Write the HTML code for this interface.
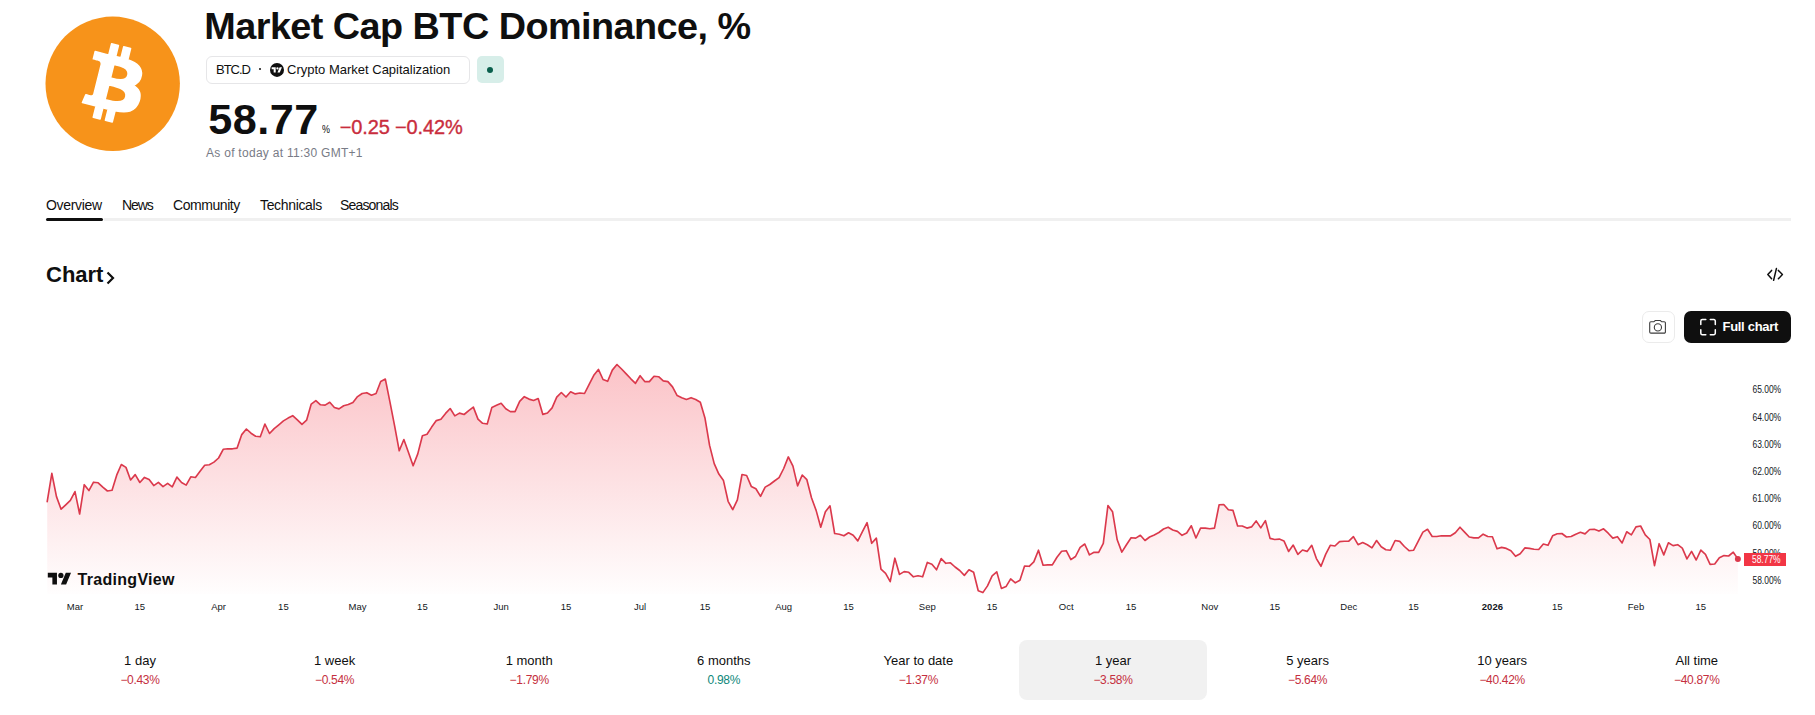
<!DOCTYPE html>
<html><head><meta charset="utf-8"><style>
*{box-sizing:border-box}
html,body{margin:0;padding:0;background:#fff;width:1815px;height:715px;overflow:hidden;font-family:"Liberation Sans", sans-serif;color:#0f0f0f}
.a{position:absolute;white-space:nowrap}
.title{left:204.3px;top:4.2px;font-size:37.8px;font-weight:bold;line-height:44px;letter-spacing:-0.54px}
.pill{left:206px;top:56px;width:264px;height:28px;border:1px solid #e6e6e8;border-radius:6px}
.pt{font-size:13px;line-height:16px;top:62px}
.gbox{left:477px;top:56px;width:27px;height:27px;border-radius:5px;background:#d7eee9}
.gdot{left:487px;top:67px;width:6px;height:6px;border-radius:50%;background:#0a5f4c}
.price{left:208.3px;top:95.2px;font-size:43.2px;font-weight:bold;line-height:48px;letter-spacing:0.5px}
.pct{left:322px;top:122.3px;font-size:11.5px;line-height:14px;transform:scaleX(0.78);transform-origin:0 0}
.chg{left:339.8px;top:116px;font-size:20px;line-height:22px;color:#c92d3d;letter-spacing:-0.15px;-webkit-text-stroke:0.35px #c92d3d}
.asof{left:206px;top:146px;font-size:12px;line-height:14px;color:#787b86;letter-spacing:0.28px}
.tab{top:197.3px;font-size:14px;line-height:16px}
.tline{left:104px;top:218px;width:1687px;height:3px;background:#f0f0f0}
.tact{left:46px;top:218px;width:57px;height:3px;background:#0f0f0f;border-radius:2px}
.chart{left:46px;top:262px;font-size:22px;font-weight:bold;line-height:26px}
.cam{left:1642px;top:311px;width:33px;height:32px;border:1px solid #ebebeb;border-radius:7px}
.full{left:1684px;top:311px;width:107px;height:32px;background:#0f0f0f;border-radius:7px}
.fullt{left:1722.5px;top:319px;font-size:13px;font-weight:bold;line-height:16px;color:#fff;letter-spacing:-0.3px}
.yl{position:absolute;left:1748px;width:38px;text-align:center;font-size:10.2px;line-height:14px;color:#131722;transform:scaleX(0.83);transform-origin:17.8px 0}
.xl{position:absolute;top:600px;width:60px;text-align:center;font-size:9.5px;line-height:14px;color:#131722}
.plab{left:1744px;top:553px;width:42px;height:13px;background:#f23645;color:#fff;font-size:10.2px;line-height:13px;text-align:center;padding-left:2px}
.plab span{display:inline-block;transform:scaleX(0.83)}
.tvt{left:77.5px;top:570px;letter-spacing:0.3px;font-size:16px;font-weight:bold;line-height:19px;color:#0f0f0f}
.rg{position:absolute;top:640px;width:188px;height:60px;border-radius:8px;text-align:center}
.rg.sel{background:#f1f1f1}
.rl{position:absolute;left:0;right:0;top:13px;font-size:13px;line-height:16px;color:#0f0f0f}
.rv{position:absolute;left:0;right:0;top:33px;font-size:12px;line-height:14px;letter-spacing:-0.3px}
.r{color:#c52f40} .g{color:#0d877a}
</style></head><body>
<svg class="a" style="left:0;top:0" width="1815" height="715" viewBox="0 0 1815 715">
<defs>
<linearGradient id="fg" gradientUnits="userSpaceOnUse" x1="0" y1="363" x2="0" y2="600">
<stop offset="0" stop-color="#f23645" stop-opacity="0.30"/>
<stop offset="1" stop-color="#f23645" stop-opacity="0"/>
</linearGradient>
</defs>
<!-- bitcoin logo -->
<circle cx="112.7" cy="83.8" r="67.2" fill="#f7931a"/>
<g transform="translate(52.5,22.4) scale(1.926)">
<path fill="#fff" stroke="#fff" stroke-width="0.85" stroke-linejoin="round" d="M46.11 27.441c.636-4.258-2.606-6.547-7.039-8.074l1.438-5.768-3.511-.875-1.4 5.616c-.923-.23-1.871-.447-2.813-.662l1.41-5.653-3.509-.875-1.439 5.766c-.764-.174-1.514-.346-2.242-.527l.004-.018-4.842-1.209-.934 3.75s2.605.597 2.55.634c1.422.355 1.679 1.296 1.636 2.042l-1.638 6.571c.098.025.225.061.365.117l-.371-.092-2.297 9.205c-.174.432-.615 1.08-1.609.834.035.051-2.552-.637-2.552-.637l-1.743 4.019 4.569 1.139c.85.213 1.683.436 2.503.646l-1.453 5.834 3.507.875 1.439-5.772c.958.26 1.888.5 2.798.726l-1.434 5.745 3.511.875 1.453-5.823c5.987 1.133 10.489.676 12.384-4.739 1.527-4.36-.076-6.875-3.226-8.515 2.294-.529 4.022-2.038 4.483-5.155zM38.087 38.69c-1.085 4.36-8.426 2.003-10.806 1.412l1.928-7.729c2.38.594 10.012 1.77 8.878 6.317zm1.086-11.312c-.99 3.966-7.1 1.951-9.082 1.457l1.748-7.01c1.982.494 8.365 1.416 7.334 5.553z"/>
</g>
<!-- tv circle logo in pill -->
<circle cx="277" cy="69.9" r="7" fill="#0f0f0f"/>
<g transform="translate(271.65,66.13) scale(0.29)" fill="#fff"><path d="M14 22H7V11H0V4h14v18zM28 22h-8l7.5-18h8L28 22z"/><circle cx="20" cy="8" r="4"/></g>
<!-- code icon -->
<g fill="none" stroke="#0f0f0f" stroke-width="1.5" stroke-linecap="round" stroke-linejoin="round">
<path d="M1771.6,270.4 L1767.8,274.6 L1771.6,278.8"/>
<path d="M1776.4,268.6 L1773.6,280.3"/>
<path d="M1778.4,270.4 L1782.4,274.6 L1778.4,278.8"/>
</g>
<!-- chevron after Chart -->
<path d="M107.5,272.5 L113,278 L107.5,283.5" fill="none" stroke="#0f0f0f" stroke-width="2.2"/>
<!-- chart -->
<path d="M47.21,501.7 L51.84,473.4 L56.47,496.6 L61.10,509.2 L65.74,504.8 L70.37,500.4 L75.00,491.6 L79.63,514.0 L84.26,484.7 L88.90,490.6 L93.53,482.2 L98.16,482.8 L102.79,487.2 L107.42,491.0 L112.06,490.3 L116.69,475.2 L121.32,464.5 L125.95,467.4 L130.58,480.0 L135.22,474.6 L139.85,482.5 L144.48,477.4 L149.11,479.6 L153.74,485.6 L158.38,482.4 L163.01,486.6 L167.64,483.4 L172.27,486.8 L176.90,477.1 L181.54,482.5 L186.17,485.1 L190.80,476.8 L195.43,477.5 L200.06,471.2 L204.70,465.3 L209.33,464.7 L213.96,462.1 L218.59,458.0 L223.22,449.3 L227.86,448.8 L232.49,448.8 L237.12,448.1 L241.75,434.6 L246.38,429.0 L251.02,433.2 L255.65,436.3 L260.28,436.7 L264.91,424.0 L269.54,433.5 L274.18,428.6 L278.81,424.8 L283.44,420.9 L288.07,418.1 L292.70,415.7 L297.34,419.9 L301.97,424.4 L306.60,420.2 L311.23,404.1 L315.86,400.6 L320.50,404.8 L325.13,405.1 L329.76,402.3 L334.39,407.5 L339.02,408.9 L343.66,405.7 L348.29,404.5 L352.92,402.4 L357.55,396.6 L362.18,393.5 L366.82,392.7 L371.45,395.2 L376.08,393.5 L380.71,381.5 L385.34,379.1 L389.98,402.2 L394.61,425.9 L399.24,450.8 L403.87,439.5 L408.50,452.5 L413.14,465.8 L417.77,453.9 L422.40,435.7 L427.03,434.3 L431.66,427.1 L436.30,420.6 L440.93,419.2 L445.56,413.4 L450.19,408.5 L454.82,415.9 L459.46,413.1 L464.09,414.5 L468.72,410.6 L473.35,407.1 L477.98,419.1 L482.62,423.3 L487.25,424.0 L491.88,407.4 L496.51,405.3 L501.14,403.3 L505.78,408.8 L510.41,411.6 L515.04,411.6 L519.67,401.4 L524.30,396.7 L528.94,399.1 L533.57,400.5 L538.20,398.6 L542.83,414.4 L547.46,413.0 L552.10,407.9 L556.73,397.2 L561.36,392.5 L565.99,397.0 L570.62,391.8 L575.26,393.9 L579.89,393.0 L584.52,393.5 L589.15,384.4 L593.78,375.3 L598.42,369.4 L603.05,379.5 L607.68,381.3 L612.31,370.1 L616.94,364.5 L621.58,369.0 L626.21,373.9 L630.84,378.8 L635.47,383.3 L640.10,375.7 L644.74,381.6 L649.37,381.6 L654.00,376.3 L658.63,376.7 L663.26,380.9 L667.90,381.6 L672.53,386.9 L677.16,395.6 L681.79,397.7 L686.42,399.5 L691.06,397.7 L695.69,399.5 L700.32,402.3 L704.95,417.9 L709.58,445.4 L714.22,463.6 L718.85,474.1 L723.48,480.6 L728.11,501.3 L732.74,509.7 L737.38,499.9 L742.01,474.5 L746.64,475.5 L751.27,486.4 L755.90,488.7 L760.54,496.4 L765.17,487.1 L769.80,484.5 L774.43,481.0 L779.06,477.6 L783.70,468.5 L788.33,456.9 L792.96,466.1 L797.59,485.9 L802.22,475.0 L806.86,479.7 L811.49,497.8 L816.12,510.4 L820.75,527.2 L825.38,511.8 L830.02,505.8 L834.65,533.5 L839.28,534.2 L843.91,535.8 L848.54,532.8 L853.18,535.3 L857.81,540.9 L862.44,531.6 L867.07,522.7 L871.70,543.3 L876.34,538.1 L880.97,569.1 L885.60,573.3 L890.23,581.7 L894.86,558.2 L899.50,574.4 L904.13,571.6 L908.76,572.3 L913.39,576.8 L918.02,575.8 L922.66,576.8 L927.29,562.4 L931.92,564.2 L936.55,569.8 L941.18,558.6 L945.82,563.3 L950.45,562.8 L955.08,567.0 L959.71,570.5 L964.34,575.4 L968.98,569.8 L973.61,572.2 L978.24,590.8 L982.87,592.6 L987.50,585.9 L992.14,575.8 L996.77,571.9 L1001.40,588.4 L1006.03,586.6 L1010.66,578.9 L1015.30,582.8 L1019.93,580.3 L1024.56,566.0 L1029.19,566.3 L1033.82,561.9 L1038.46,550.2 L1043.09,565.2 L1047.72,564.9 L1052.35,564.9 L1056.98,557.2 L1061.62,551.2 L1066.25,550.7 L1070.88,559.6 L1075.51,556.5 L1080.14,547.4 L1084.78,544.0 L1089.41,554.9 L1094.04,552.3 L1098.67,552.3 L1103.30,543.3 L1107.94,505.5 L1112.57,511.8 L1117.20,539.8 L1121.83,552.1 L1126.46,544.7 L1131.10,537.7 L1135.73,538.1 L1140.36,535.3 L1144.99,540.5 L1149.62,537.0 L1154.26,534.9 L1158.89,532.5 L1163.52,529.0 L1168.15,527.2 L1172.78,530.0 L1177.42,531.4 L1182.05,535.3 L1186.68,533.0 L1191.31,525.8 L1195.94,538.0 L1200.58,528.1 L1205.21,528.1 L1209.84,528.8 L1214.47,528.1 L1219.10,504.8 L1223.74,504.5 L1228.37,509.7 L1233.00,510.4 L1237.63,526.0 L1242.26,526.0 L1246.90,528.1 L1251.53,526.9 L1256.16,520.9 L1260.79,527.9 L1265.42,520.6 L1270.06,538.4 L1274.69,539.5 L1279.32,539.1 L1283.95,540.9 L1288.58,551.4 L1293.22,545.1 L1297.85,554.4 L1302.48,550.0 L1307.11,551.4 L1311.74,545.3 L1316.38,558.6 L1321.01,566.3 L1325.64,554.4 L1330.27,545.3 L1334.90,546.0 L1339.54,541.6 L1344.17,541.2 L1348.80,541.2 L1353.43,536.7 L1358.06,544.7 L1362.70,542.6 L1367.33,544.7 L1371.96,547.9 L1376.59,540.5 L1381.22,546.7 L1385.86,549.8 L1390.49,550.2 L1395.12,540.5 L1399.75,541.4 L1404.38,546.5 L1409.02,550.7 L1413.65,550.2 L1418.28,541.2 L1422.91,532.1 L1427.54,529.3 L1432.18,536.5 L1436.81,536.5 L1441.44,535.8 L1446.07,535.8 L1450.70,535.8 L1455.34,532.8 L1459.97,527.2 L1464.60,532.1 L1469.23,537.0 L1473.86,537.9 L1478.50,537.9 L1483.13,534.2 L1487.76,536.5 L1492.39,536.7 L1497.02,548.8 L1501.66,547.4 L1506.29,548.4 L1510.92,550.7 L1515.55,556.3 L1520.18,553.7 L1524.82,547.9 L1529.45,548.4 L1534.08,549.3 L1538.71,549.5 L1543.34,544.0 L1547.98,545.3 L1552.61,535.8 L1557.24,533.7 L1561.87,533.5 L1566.50,537.0 L1571.14,536.5 L1575.77,534.2 L1580.40,532.3 L1585.03,533.9 L1589.66,529.5 L1594.30,529.3 L1598.93,531.1 L1603.56,528.8 L1608.19,533.2 L1612.82,538.1 L1617.46,536.7 L1622.09,543.0 L1626.72,531.8 L1631.35,534.9 L1635.98,526.9 L1640.62,526.0 L1645.25,534.9 L1649.88,539.5 L1654.51,565.6 L1659.14,543.7 L1663.78,554.9 L1668.41,542.8 L1673.04,545.6 L1677.67,544.7 L1682.30,548.1 L1686.94,558.9 L1691.57,551.4 L1696.20,560.0 L1700.83,550.1 L1705.46,554.3 L1710.10,564.4 L1714.73,564.0 L1719.36,557.7 L1723.99,555.6 L1728.62,556.0 L1733.26,552.2 L1737.89,558.9 L1737.89,594 L47.21,594 Z" fill="url(#fg)"/>
<path d="M47.21,501.7 L51.84,473.4 L56.47,496.6 L61.10,509.2 L65.74,504.8 L70.37,500.4 L75.00,491.6 L79.63,514.0 L84.26,484.7 L88.90,490.6 L93.53,482.2 L98.16,482.8 L102.79,487.2 L107.42,491.0 L112.06,490.3 L116.69,475.2 L121.32,464.5 L125.95,467.4 L130.58,480.0 L135.22,474.6 L139.85,482.5 L144.48,477.4 L149.11,479.6 L153.74,485.6 L158.38,482.4 L163.01,486.6 L167.64,483.4 L172.27,486.8 L176.90,477.1 L181.54,482.5 L186.17,485.1 L190.80,476.8 L195.43,477.5 L200.06,471.2 L204.70,465.3 L209.33,464.7 L213.96,462.1 L218.59,458.0 L223.22,449.3 L227.86,448.8 L232.49,448.8 L237.12,448.1 L241.75,434.6 L246.38,429.0 L251.02,433.2 L255.65,436.3 L260.28,436.7 L264.91,424.0 L269.54,433.5 L274.18,428.6 L278.81,424.8 L283.44,420.9 L288.07,418.1 L292.70,415.7 L297.34,419.9 L301.97,424.4 L306.60,420.2 L311.23,404.1 L315.86,400.6 L320.50,404.8 L325.13,405.1 L329.76,402.3 L334.39,407.5 L339.02,408.9 L343.66,405.7 L348.29,404.5 L352.92,402.4 L357.55,396.6 L362.18,393.5 L366.82,392.7 L371.45,395.2 L376.08,393.5 L380.71,381.5 L385.34,379.1 L389.98,402.2 L394.61,425.9 L399.24,450.8 L403.87,439.5 L408.50,452.5 L413.14,465.8 L417.77,453.9 L422.40,435.7 L427.03,434.3 L431.66,427.1 L436.30,420.6 L440.93,419.2 L445.56,413.4 L450.19,408.5 L454.82,415.9 L459.46,413.1 L464.09,414.5 L468.72,410.6 L473.35,407.1 L477.98,419.1 L482.62,423.3 L487.25,424.0 L491.88,407.4 L496.51,405.3 L501.14,403.3 L505.78,408.8 L510.41,411.6 L515.04,411.6 L519.67,401.4 L524.30,396.7 L528.94,399.1 L533.57,400.5 L538.20,398.6 L542.83,414.4 L547.46,413.0 L552.10,407.9 L556.73,397.2 L561.36,392.5 L565.99,397.0 L570.62,391.8 L575.26,393.9 L579.89,393.0 L584.52,393.5 L589.15,384.4 L593.78,375.3 L598.42,369.4 L603.05,379.5 L607.68,381.3 L612.31,370.1 L616.94,364.5 L621.58,369.0 L626.21,373.9 L630.84,378.8 L635.47,383.3 L640.10,375.7 L644.74,381.6 L649.37,381.6 L654.00,376.3 L658.63,376.7 L663.26,380.9 L667.90,381.6 L672.53,386.9 L677.16,395.6 L681.79,397.7 L686.42,399.5 L691.06,397.7 L695.69,399.5 L700.32,402.3 L704.95,417.9 L709.58,445.4 L714.22,463.6 L718.85,474.1 L723.48,480.6 L728.11,501.3 L732.74,509.7 L737.38,499.9 L742.01,474.5 L746.64,475.5 L751.27,486.4 L755.90,488.7 L760.54,496.4 L765.17,487.1 L769.80,484.5 L774.43,481.0 L779.06,477.6 L783.70,468.5 L788.33,456.9 L792.96,466.1 L797.59,485.9 L802.22,475.0 L806.86,479.7 L811.49,497.8 L816.12,510.4 L820.75,527.2 L825.38,511.8 L830.02,505.8 L834.65,533.5 L839.28,534.2 L843.91,535.8 L848.54,532.8 L853.18,535.3 L857.81,540.9 L862.44,531.6 L867.07,522.7 L871.70,543.3 L876.34,538.1 L880.97,569.1 L885.60,573.3 L890.23,581.7 L894.86,558.2 L899.50,574.4 L904.13,571.6 L908.76,572.3 L913.39,576.8 L918.02,575.8 L922.66,576.8 L927.29,562.4 L931.92,564.2 L936.55,569.8 L941.18,558.6 L945.82,563.3 L950.45,562.8 L955.08,567.0 L959.71,570.5 L964.34,575.4 L968.98,569.8 L973.61,572.2 L978.24,590.8 L982.87,592.6 L987.50,585.9 L992.14,575.8 L996.77,571.9 L1001.40,588.4 L1006.03,586.6 L1010.66,578.9 L1015.30,582.8 L1019.93,580.3 L1024.56,566.0 L1029.19,566.3 L1033.82,561.9 L1038.46,550.2 L1043.09,565.2 L1047.72,564.9 L1052.35,564.9 L1056.98,557.2 L1061.62,551.2 L1066.25,550.7 L1070.88,559.6 L1075.51,556.5 L1080.14,547.4 L1084.78,544.0 L1089.41,554.9 L1094.04,552.3 L1098.67,552.3 L1103.30,543.3 L1107.94,505.5 L1112.57,511.8 L1117.20,539.8 L1121.83,552.1 L1126.46,544.7 L1131.10,537.7 L1135.73,538.1 L1140.36,535.3 L1144.99,540.5 L1149.62,537.0 L1154.26,534.9 L1158.89,532.5 L1163.52,529.0 L1168.15,527.2 L1172.78,530.0 L1177.42,531.4 L1182.05,535.3 L1186.68,533.0 L1191.31,525.8 L1195.94,538.0 L1200.58,528.1 L1205.21,528.1 L1209.84,528.8 L1214.47,528.1 L1219.10,504.8 L1223.74,504.5 L1228.37,509.7 L1233.00,510.4 L1237.63,526.0 L1242.26,526.0 L1246.90,528.1 L1251.53,526.9 L1256.16,520.9 L1260.79,527.9 L1265.42,520.6 L1270.06,538.4 L1274.69,539.5 L1279.32,539.1 L1283.95,540.9 L1288.58,551.4 L1293.22,545.1 L1297.85,554.4 L1302.48,550.0 L1307.11,551.4 L1311.74,545.3 L1316.38,558.6 L1321.01,566.3 L1325.64,554.4 L1330.27,545.3 L1334.90,546.0 L1339.54,541.6 L1344.17,541.2 L1348.80,541.2 L1353.43,536.7 L1358.06,544.7 L1362.70,542.6 L1367.33,544.7 L1371.96,547.9 L1376.59,540.5 L1381.22,546.7 L1385.86,549.8 L1390.49,550.2 L1395.12,540.5 L1399.75,541.4 L1404.38,546.5 L1409.02,550.7 L1413.65,550.2 L1418.28,541.2 L1422.91,532.1 L1427.54,529.3 L1432.18,536.5 L1436.81,536.5 L1441.44,535.8 L1446.07,535.8 L1450.70,535.8 L1455.34,532.8 L1459.97,527.2 L1464.60,532.1 L1469.23,537.0 L1473.86,537.9 L1478.50,537.9 L1483.13,534.2 L1487.76,536.5 L1492.39,536.7 L1497.02,548.8 L1501.66,547.4 L1506.29,548.4 L1510.92,550.7 L1515.55,556.3 L1520.18,553.7 L1524.82,547.9 L1529.45,548.4 L1534.08,549.3 L1538.71,549.5 L1543.34,544.0 L1547.98,545.3 L1552.61,535.8 L1557.24,533.7 L1561.87,533.5 L1566.50,537.0 L1571.14,536.5 L1575.77,534.2 L1580.40,532.3 L1585.03,533.9 L1589.66,529.5 L1594.30,529.3 L1598.93,531.1 L1603.56,528.8 L1608.19,533.2 L1612.82,538.1 L1617.46,536.7 L1622.09,543.0 L1626.72,531.8 L1631.35,534.9 L1635.98,526.9 L1640.62,526.0 L1645.25,534.9 L1649.88,539.5 L1654.51,565.6 L1659.14,543.7 L1663.78,554.9 L1668.41,542.8 L1673.04,545.6 L1677.67,544.7 L1682.30,548.1 L1686.94,558.9 L1691.57,551.4 L1696.20,560.0 L1700.83,550.1 L1705.46,554.3 L1710.10,564.4 L1714.73,564.0 L1719.36,557.7 L1723.99,555.6 L1728.62,556.0 L1733.26,552.2 L1737.89,558.9" fill="none" stroke="#db394c" stroke-width="1.65" stroke-linejoin="round" stroke-linecap="round"/>
<circle cx="1737.89" cy="558.9" r="3" fill="#db394c"/>
<!-- TV logo -->
<g transform="translate(47.8,570.2) scale(0.654)" fill="#0f0f0f"><path d="M14 22H7V11H0V4h14v18zM28 22h-8l7.5-18h8L28 22z"/><circle cx="20" cy="8" r="4"/></g>
</svg>

<div class="a title">Market Cap BTC Dominance, %</div>
<div class="a pill"></div>
<div class="a pt" style="left:216px;letter-spacing:-1px">BTC.D</div>
<div class="a" style="left:259px;top:68px;width:2.2px;height:2.2px;border-radius:50%;background:#0f0f0f"></div>
<div class="a pt" style="left:287px">Crypto Market Capitalization</div>
<div class="a gbox"></div><div class="a gdot"></div>
<div class="a price">58.77</div>
<div class="a pct">%</div>
<div class="a chg">−0.25 −0.42%</div>
<div class="a asof">As of today at 11:30 GMT+1</div>
<div class="a tab" style="left:46px;letter-spacing:-0.31px">Overview</div>
<div class="a tab" style="left:122px;letter-spacing:-1.1px">News</div>
<div class="a tab" style="left:173px;letter-spacing:-0.44px">Community</div>
<div class="a tab" style="left:260px;letter-spacing:-0.34px">Technicals</div>
<div class="a tab" style="left:340px;letter-spacing:-0.84px">Seasonals</div>
<div class="a tline"></div><div class="a tact"></div>
<div class="a chart">Chart</div>
<div class="a cam"></div>
<div class="a full"></div>
<div class="a fullt">Full chart</div>
<div class="yl" style="top:573.8px">58.00%</div>
<div class="yl" style="top:546.6px">59.00%</div>
<div class="yl" style="top:519.4px">60.00%</div>
<div class="yl" style="top:492.2px">61.00%</div>
<div class="yl" style="top:465.0px">62.00%</div>
<div class="yl" style="top:437.8px">63.00%</div>
<div class="yl" style="top:410.6px">64.00%</div>
<div class="yl" style="top:383.4px">65.00%</div>

<div class="a plab"><span>58.77%</span></div>
<div class="xl" style="left:45.0px"><span>Mar</span></div>
<div class="xl" style="left:109.8px"><span>15</span></div>
<div class="xl" style="left:188.6px"><span>Apr</span></div>
<div class="xl" style="left:253.4px"><span>15</span></div>
<div class="xl" style="left:327.6px"><span>May</span></div>
<div class="xl" style="left:392.4px"><span>15</span></div>
<div class="xl" style="left:471.1px"><span>Jun</span></div>
<div class="xl" style="left:536.0px"><span>15</span></div>
<div class="xl" style="left:610.1px"><span>Jul</span></div>
<div class="xl" style="left:675.0px"><span>15</span></div>
<div class="xl" style="left:753.7px"><span>Aug</span></div>
<div class="xl" style="left:818.5px"><span>15</span></div>
<div class="xl" style="left:897.3px"><span>Sep</span></div>
<div class="xl" style="left:962.1px"><span>15</span></div>
<div class="xl" style="left:1036.2px"><span>Oct</span></div>
<div class="xl" style="left:1101.1px"><span>15</span></div>
<div class="xl" style="left:1179.8px"><span>Nov</span></div>
<div class="xl" style="left:1244.7px"><span>15</span></div>
<div class="xl" style="left:1318.8px"><span>Dec</span></div>
<div class="xl" style="left:1383.6px"><span>15</span></div>
<div class="xl" style="left:1462.4px"><span style="font-weight:bold">2026</span></div>
<div class="xl" style="left:1527.2px"><span>15</span></div>
<div class="xl" style="left:1606.0px"><span>Feb</span></div>
<div class="xl" style="left:1670.8px"><span>15</span></div>

<div class="a tvt">TradingView</div>
<div class="rg" style="left:46.0px"><div class="rl">1 day</div><div class="rv r">−0.43%</div></div>
<div class="rg" style="left:240.6px"><div class="rl">1 week</div><div class="rv r">−0.54%</div></div>
<div class="rg" style="left:435.2px"><div class="rl">1 month</div><div class="rv r">−1.79%</div></div>
<div class="rg" style="left:629.8px"><div class="rl">6 months</div><div class="rv g">0.98%</div></div>
<div class="rg" style="left:824.4px"><div class="rl">Year to date</div><div class="rv r">−1.37%</div></div>
<div class="rg sel" style="left:1019.0px"><div class="rl">1 year</div><div class="rv r">−3.58%</div></div>
<div class="rg" style="left:1213.6px"><div class="rl">5 years</div><div class="rv r">−5.64%</div></div>
<div class="rg" style="left:1408.2px"><div class="rl">10 years</div><div class="rv r">−40.42%</div></div>
<div class="rg" style="left:1602.8px"><div class="rl">All time</div><div class="rv r">−40.87%</div></div>

<svg class="a" style="left:0;top:0" width="1815" height="715" viewBox="0 0 1815 715">
<!-- camera -->
<g fill="none" stroke="#3d3d3d" stroke-width="1.1">
<path d="M1650.9,321.8 h3 l1.3,-1.3 h5.2 l1.3,1.3 h2.5 a1.2,1.2 0 0 1 1.2,1.2 v8.9 a1.2,1.2 0 0 1 -1.2,1.2 h-13.3 a1.2,1.2 0 0 1 -1.2,-1.2 v-8.9 a1.2,1.2 0 0 1 1.2,-1.2 z"/>
<circle cx="1657.9" cy="327.4" r="3.6"/>
</g>
<!-- full chart icon -->
<g fill="none" stroke="#fff" stroke-width="1.5" stroke-linecap="round">
<path d="M1700.8,324.5 v-3.5 a1.5,1.5 0 0 1 1.5,-1.5 h3.5"/>
<path d="M1710.3,319.5 h3.5 a1.5,1.5 0 0 1 1.5,1.5 v3.5"/>
<path d="M1715.3,329.7 v3.5 a1.5,1.5 0 0 1 -1.5,1.5 h-3.5"/>
<path d="M1705.8,334.7 h-3.5 a1.5,1.5 0 0 1 -1.5,-1.5 v-3.5"/>
</g>
</svg>
</body></html>
